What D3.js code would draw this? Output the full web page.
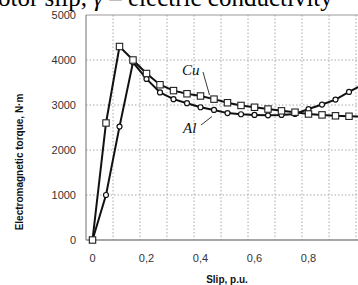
<!DOCTYPE html>
<html>
<head>
<meta charset="UTF-8">
<title>torque vs slip</title>
<script src="https://cdn.jsdelivr.net/npm/d3@7"></script>
<style>
body { margin: 0; background: #fff; }
svg { display: block; }
.tick-label { font-family: "Liberation Sans", Arial, sans-serif; font-size: 11px; fill: #333; }
.axis-title { font-family: "Liberation Sans", Arial, sans-serif; font-size: 10px; font-weight: bold; fill: #111; }
.caption { font-family: "Liberation Serif", "Times New Roman", serif; font-size: 25px; fill: #000; }
.curve-label { font-family: "Liberation Serif", "Times New Roman", serif; font-size: 15px; font-style: italic; fill: #111; }
</style>
</head>
<body>
<svg id="chart" width="358" height="285"></svg>
<script>
// slip values (p.u.)
var slip = [0, 0.05, 0.1, 0.15, 0.2, 0.25, 0.3, 0.35, 0.4, 0.45, 0.5, 0.55, 0.6, 0.65, 0.7, 0.75, 0.8, 0.85, 0.9, 0.95, 1.0];
// torque, N·m
var torqueCu = [0, 2600, 4300, 4000, 3700, 3450, 3320, 3250, 3200, 3130, 3050, 2990, 2950, 2910, 2870, 2840, 2800, 2780, 2760, 2750, 2740];
var torqueAl = [0, 1000, 2520, 3950, 3580, 3280, 3130, 3040, 2950, 2890, 2820, 2795, 2780, 2770, 2780, 2800, 2910, 3010, 3120, 3290, 3450];

var yTicks = [0, 1000, 2000, 3000, 4000, 5000];
var xTicks = [0, 0.2, 0.4, 0.6, 0.8];
var xTickLabels = ["0", "0,2", "0,4", "0,6", "0,8"];
// plot frame starts a bit left of zero, grid is spaced 0.1 from the frame edge
var xFrameStart = -0.024;

var svg = d3.select("#chart");

var x = d3.scaleLinear().domain([0, 1]).range([92.5, 362.5]);
var y = d3.scaleLinear().domain([0, 5000]).range([240, 15]);

var left = x(xFrameStart), right = 358;

// caption text from the figure above (cut off)
svg.append("text")
  .attr("class", "caption")
  .attr("x", -2).attr("y", 6)
  .html('otor slip, <tspan font-style="italic">γ</tspan> – electric conductivity');

// grid
var gridX = d3.range(1, 11).map(function(k) { return xFrameStart + 0.1 * k; });
svg.append("g").selectAll("line")
  .data(gridX).enter().append("line")
  .attr("x1", function(d) { return x(d); }).attr("x2", function(d) { return x(d); })
  .attr("y1", y(5000)).attr("y2", y(0))
  .attr("stroke", "#a8a8a8").attr("stroke-width", 1).attr("stroke-dasharray", "1.5,2");

svg.append("g").selectAll("line")
  .data(yTicks.slice(1, 5)).enter().append("line")
  .attr("x1", left).attr("x2", right)
  .attr("y1", function(d) { return y(d); }).attr("y2", function(d) { return y(d); })
  .attr("stroke", "#a8a8a8").attr("stroke-width", 1).attr("stroke-dasharray", "1.5,2");

// frame
svg.append("line").attr("x1", left).attr("x2", right).attr("y1", y(5000)).attr("y2", y(5000))
  .attr("stroke", "#999").attr("stroke-width", 1);
svg.append("line").attr("x1", left).attr("x2", left).attr("y1", y(5000)).attr("y2", y(0))
  .attr("stroke", "#888").attr("stroke-width", 1.2);
svg.append("line").attr("x1", left).attr("x2", right).attr("y1", y(0)).attr("y2", y(0))
  .attr("stroke", "#888").attr("stroke-width", 1.5);

// tick labels
svg.append("g").selectAll("text")
  .data(yTicks).enter().append("text")
  .attr("class", "tick-label")
  .attr("x", 76).attr("y", function(d) { return y(d); })
  .attr("dy", "0.35em").attr("text-anchor", "end")
  .text(function(d) { return d; });

svg.append("g").selectAll("text")
  .data(xTicks).enter().append("text")
  .attr("class", "tick-label")
  .attr("x", function(d) { return x(d); }).attr("y", 258)
  .attr("dy", "0.35em").attr("text-anchor", "middle")
  .text(function(d, i) { return xTickLabels[i]; });

// axis titles
svg.append("text").attr("class", "axis-title")
  .attr("x", 227).attr("y", 279).attr("dy", "0.35em").attr("text-anchor", "middle")
  .text("Slip, p.u.");
svg.append("text").attr("class", "axis-title")
  .attr("transform", "translate(19,162) rotate(-90)")
  .attr("dy", "0.35em").attr("text-anchor", "middle")
  .text("Electromagnetic torque, N·m");

// curves
var cu = slip.map(function(s, i) { return [s, torqueCu[i]]; });
var al = slip.map(function(s, i) { return [s, torqueAl[i]]; });
var line = d3.line().x(function(d) { return x(d[0]); }).y(function(d) { return y(d[1]); });

svg.append("path").datum(al).attr("d", line)
  .attr("fill", "none").attr("stroke", "#111").attr("stroke-width", 2);
svg.append("path").datum(cu).attr("d", line)
  .attr("fill", "none").attr("stroke", "#111").attr("stroke-width", 2);

svg.append("g").selectAll("circle")
  .data(al).enter().append("circle")
  .attr("cx", function(d) { return x(d[0]); }).attr("cy", function(d) { return y(d[1]); })
  .attr("r", 2.5).attr("fill", "#fff").attr("stroke", "#111").attr("stroke-width", 1.2);

svg.append("g").selectAll("rect")
  .data(cu).enter().append("rect")
  .attr("x", function(d) { return x(d[0]) - 3.2; }).attr("y", function(d) { return y(d[1]) - 3.2; })
  .attr("width", 6.4).attr("height", 6.4)
  .attr("fill", "#fff").attr("stroke", "#222").attr("stroke-width", 1.1);

// curve labels with leaders
svg.append("text").attr("class", "curve-label")
  .attr("x", 182).attr("y", 75).text("Cu");
svg.append("line").attr("x1", 203).attr("y1", 72).attr("x2", 209.5).attr("y2", 95)
  .attr("stroke", "#222").attr("stroke-width", 0.9);
svg.append("text").attr("class", "curve-label")
  .attr("x", 183).attr("y", 133).text("Al");
svg.append("line").attr("x1", 201).attr("y1", 125).attr("x2", 212).attr("y2", 116.5)
  .attr("stroke", "#222").attr("stroke-width", 0.9);
</script>
</body>
</html>
